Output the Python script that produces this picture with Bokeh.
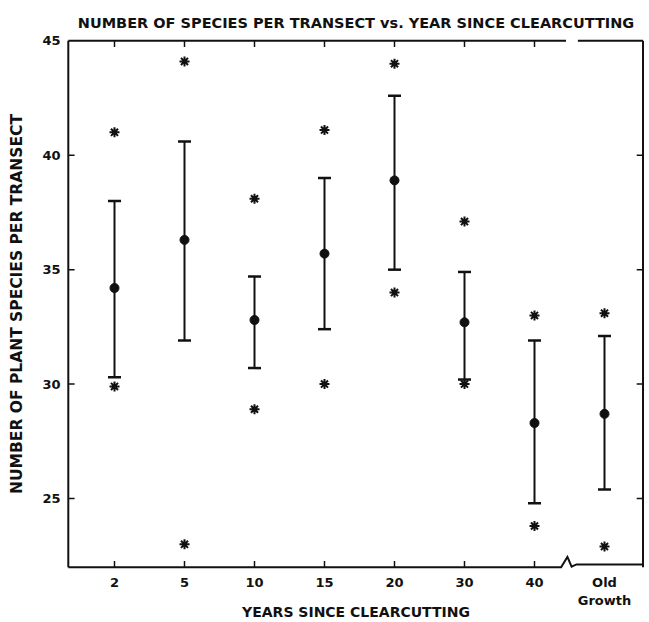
from bokeh.plotting import figure
from bokeh.models import Range1d, LinearAxis, FixedTicker, Title
from bokeh.embed import file_html
from bokeh.resources import INLINE

# Years since clearcutting (last group is uncut old growth)
categories = ["2", "5", "10", "15", "20", "30", "40", "Old\nGrowth"]
# Mean number of plant species per transect
mean_species = [34.2, 36.3, 32.8, 35.7, 38.9, 32.7, 28.3, 28.7]
# Upper / lower end of the error bar
upper_bar = [38.0, 40.6, 34.7, 39.0, 42.6, 34.9, 31.9, 32.1]
lower_bar = [30.3, 31.9, 30.7, 32.4, 35.0, 30.2, 24.8, 25.4]
# Highest / lowest transect (asterisks)
max_species = [41.0, 44.1, 38.1, 41.1, 44.0, 37.1, 33.0, 33.1]
min_species = [29.9, 23.0, 28.9, 30.0, 34.0, 30.0, 23.8, 22.9]
y_ticks = [25, 30, 35, 40, 45]

FONT = "DejaVu Sans"
INK = "#111111"
pos = list(range(len(categories)))

# frame limits in data units
X_LO, X_HI = -0.66, 7.55
Y_LO, Y_HI = 22, 45
BREAK = 6.5           # axis break between "40" and "Old Growth"
TICK_X, TICK_Y = 0.09, 0.27

p = figure(width=649, height=622, output_backend="svg", toolbar_location=None,
           x_range=Range1d(X_LO - 0.04, X_HI + 0.05),
           y_range=Range1d(Y_LO - 0.1, Y_HI + 0.1),
           x_axis_type=None, y_axis_type=None,
           min_border_left=65, min_border_right=3,
           min_border_top=38, min_border_bottom=53)
p.outline_line_color = None
p.background_fill_color = "white"
p.border_fill_color = "white"

p.title = Title(text="NUMBER OF SPECIES PER TRANSECT vs. YEAR SINCE CLEARCUTTING",
                align="center", text_font=FONT, text_font_size="14.5px",
                text_font_style="bold", text_color=INK, standoff=16)

common = dict(axis_line_color=None, major_tick_line_color=None,
              minor_tick_line_color=None, major_tick_in=0, major_tick_out=0,
              minor_tick_in=0, minor_tick_out=0,
              major_label_text_font=FONT, major_label_text_font_size="13px",
              major_label_text_font_style="bold", major_label_text_color=INK,
              axis_label_text_font=FONT, axis_label_text_font_style="bold",
              axis_label_text_color=INK)

yax = LinearAxis(ticker=FixedTicker(ticks=y_ticks),
                 axis_label="NUMBER OF PLANT SPECIES PER TRANSECT",
                 axis_label_text_font_size="15.5px",
                 major_label_standoff=5, axis_label_standoff=13, **common)
p.add_layout(yax, "left")

xax = LinearAxis(ticker=FixedTicker(ticks=pos),
                 major_label_overrides={i: categories[i] for i in pos},
                 axis_label="YEARS SINCE CLEARCUTTING",
                 axis_label_text_font_size="14px",
                 major_label_standoff=5, axis_label_standoff=-7, **common)
p.add_layout(xax, "below")

# frame: left, right, top (broken), bottom with a zigzag break
fw = 2
p.line([X_LO, X_LO], [Y_LO, Y_HI], line_color=INK, line_width=fw)
p.line([X_HI, X_HI], [Y_LO, Y_HI], line_color=INK, line_width=fw)
p.line([X_LO, BREAK - 0.05], [Y_HI, Y_HI], line_color=INK, line_width=fw)
p.line([BREAK + 0.12, X_HI], [Y_HI, Y_HI], line_color=INK, line_width=fw)
p.line([X_LO, BREAK - 0.12, BREAK - 0.03, BREAK + 0.03, BREAK + 0.1, X_HI],
       [Y_LO, Y_LO, Y_LO + 0.45, Y_LO + 0.02, Y_LO + 0.12, Y_LO + 0.12],
       line_color=INK, line_width=fw, line_join="miter")

# inward ticks on all four sides (none under the old-growth group)
inner_y = y_ticks[:-1]
dated = pos[:-1]
p.segment(x0=dated, y0=[Y_LO] * len(dated), x1=dated, y1=[Y_LO + TICK_Y] * len(dated),
          line_color=INK, line_width=1.5)
p.segment(x0=dated, y0=[Y_HI] * len(dated), x1=dated, y1=[Y_HI - TICK_Y] * len(dated),
          line_color=INK, line_width=1.5)
p.segment(x0=[X_LO] * len(inner_y), y0=inner_y,
          x1=[X_LO + TICK_X] * len(inner_y), y1=inner_y,
          line_color=INK, line_width=1.5)
p.segment(x0=[X_HI] * len(inner_y), y0=inner_y,
          x1=[X_HI - TICK_X] * len(inner_y), y1=inner_y,
          line_color=INK, line_width=1.5)

# error bars with caps
p.segment(x0=pos, y0=lower_bar, x1=pos, y1=upper_bar, line_color=INK, line_width=2)
p.scatter(pos, upper_bar, marker="dash", size=13, line_color=INK, line_width=2.5)
p.scatter(pos, lower_bar, marker="dash", size=13, line_color=INK, line_width=2.5)

# means
p.scatter(pos, mean_species, marker="circle", size=9, fill_color=INK, line_color=INK)

# extremes
for vals in (max_species, min_species):
    p.scatter(pos, vals, marker="asterisk", size=10, line_color=INK, line_width=2)
    p.scatter(pos, vals, marker="circle", size=4.5, fill_color=INK, line_color=None)

open("out.html", "w").write(file_html(p, INLINE))
